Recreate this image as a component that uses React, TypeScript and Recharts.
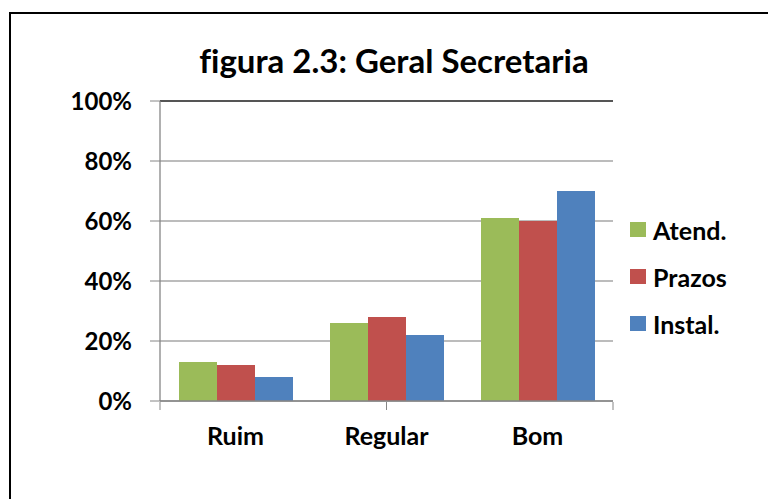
import React from 'react';
import { BarChart, Bar, XAxis, YAxis, CartesianGrid, Legend, ReferenceLine } from 'recharts';

// categorias e séries
const categories = ['Ruim', 'Regular', 'Bom'];
const atend = [13, 26, 61];
const prazos = [12, 28, 60];
const instal = [8, 22, 70];
const yTicks = [0, 20, 40, 60, 80, 100];
const boundaryTicks = [0, 1, 2, 3];

const series = [
  { key: 'atend', name: 'Atend.', color: '#9BBB59' },
  { key: 'prazos', name: 'Prazos', color: '#C0504D' },
  { key: 'instal', name: 'Instal.', color: '#4F81BD' },
];

const data = categories.map((c, i) => ({
  name: c,
  atend: atend[i],
  prazos: prazos[i],
  instal: instal[i],
}));

const FONT = 'Lato, "Open Sans", sans-serif';

const LegendBox: React.FC = () => (
  <div style={{ fontFamily: FONT, fontWeight: 700, fontSize: 25, color: '#000' }}>
    {series.map((s) => (
      <div key={s.key} style={{ display: 'flex', alignItems: 'center', height: 47 }}>
        <span style={{ width: 16, height: 15, background: s.color, marginRight: 7, display: 'inline-block' }} />
        <span>{s.name}</span>
      </div>
    ))}
  </div>
);

const App: React.FC = () => {
  return (
    <div style={{ position: 'absolute', left: 0, top: 0, width: 768, height: 499, overflow: 'hidden', background: '#fff' }}>
      {/* moldura do gráfico (só esquerda e topo ficam visíveis) */}
      <div
        style={{
          position: 'absolute',
          left: 9,
          top: 12,
          width: 820,
          height: 560,
          border: '2px solid #000',
        }}
      />
      <div
        style={{
          position: 'absolute',
          left: 0,
          width: 788,
          top: 40,
          textAlign: 'center',
          fontFamily: FONT,
          fontWeight: 700,
          fontSize: 33,
          fontVariantLigatures: 'none',
          color: '#000',
        }}
      >
        figura 2.3: Geral Secretaria
      </div>
      <div style={{ position: 'absolute', left: 0, top: 0 }}>
        <BarChart
          width={768}
          height={499}
          data={data}
          margin={{ top: 101, right: 155, bottom: 96, left: 100 }}
          barCategoryGap={19}
          barGap={0}
        >
          <CartesianGrid vertical={false} stroke="#a6a6a6" strokeWidth={1.3} />
          <XAxis
            dataKey="name"
            height={1}
            axisLine={{ stroke: '#868686', strokeWidth: 1.3 }}
            tickLine={false}
            tickSize={0}
            tickMargin={26}
            tick={{ fill: '#000', fontFamily: FONT, fontWeight: 700, fontSize: 25 }}
          />
          <XAxis
            xAxisId="bounds"
            type="number"
            domain={[0, 3]}
            ticks={boundaryTicks}
            allowDataOverflow
            height={1}
            axisLine={false}
            tickFormatter={() => ''}
            tick={{ fontSize: 1 }}
            tickSize={8}
            tickLine={{ stroke: '#868686' }}
          />
          <YAxis
            domain={[0, 100]}
            ticks={yTicks}
            tickFormatter={(v) => `${v}%`}
            width={60}
            axisLine={{ stroke: '#868686', strokeWidth: 1.3 }}
            tickLine={{ stroke: '#868686' }}
            tickSize={10}
            tickMargin={18}
            tick={{ fill: '#000', fontFamily: FONT, fontWeight: 700, fontSize: 24 }}
          />
          <YAxis
            yAxisId="right"
            orientation="right"
            domain={[0, 1]}
            width={0}
            tick={false}
            tickLine={false}
            axisLine={{ stroke: '#555', strokeWidth: 1.5 }}
          />
          <ReferenceLine y={100} stroke="#333" strokeWidth={1.5} />
          {series.map((s) => (
            <Bar key={s.key} dataKey={s.key} name={s.name} fill={s.color} isAnimationActive={false} />
          ))}
          <Legend
            layout="vertical"
            align="center"
            verticalAlign="middle"
            wrapperStyle={{ left: 630, top: 206, width: 'auto' }}
            content={() => <LegendBox />}
          />
        </BarChart>
      </div>
    </div>
  );
};

export default App;
